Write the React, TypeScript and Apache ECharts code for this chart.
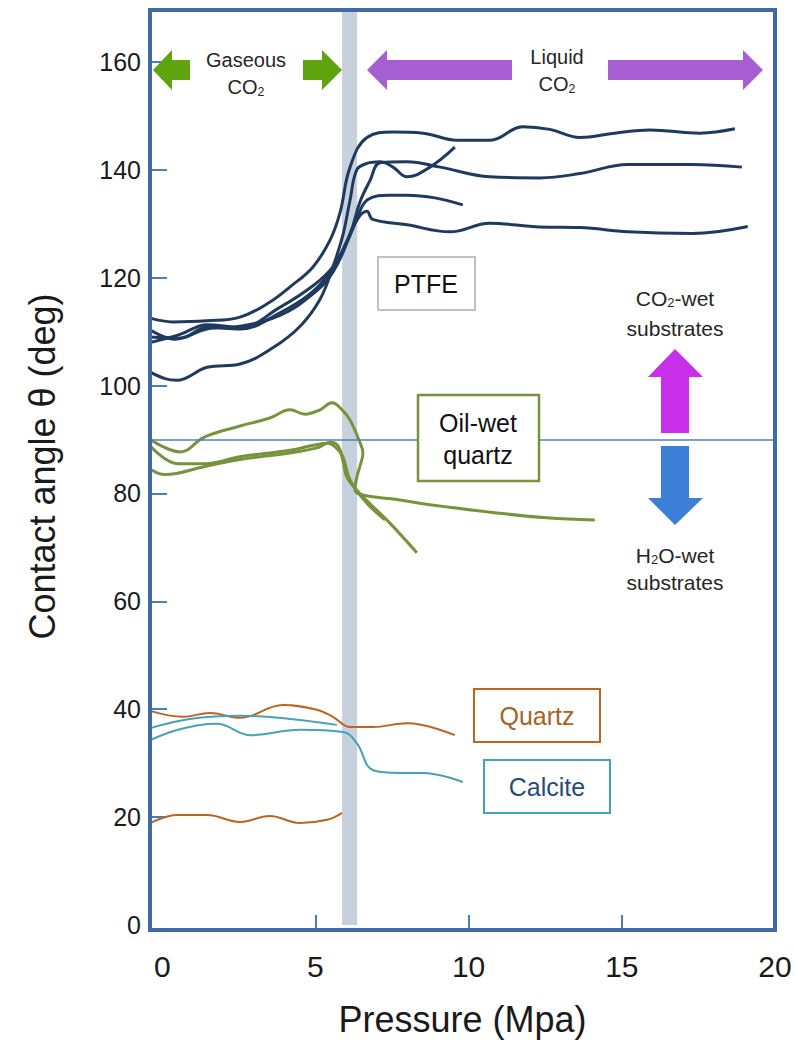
import React, { useEffect, useRef } from 'react';
import * as echarts from 'echarts';

const xLabelValues = [0, 5, 10, 15, 20];
const xTickValues = [5, 10, 15];
const yLabelValues = [0, 20, 40, 60, 80, 100, 120, 140, 160];
const yTickValues = [20, 40, 60, 80, 100, 120, 140, 160];

const ptfe1 = [[-0.39, 112.5], [0.35, 111.8], [1.44, 112], [2.54, 112.7], [3.52, 115.5], [4.17, 118.3], [4.92, 122], [5.48, 127], [5.8, 132], [6.13, 140.5], [6.68, 146], [7.53, 147], [8.51, 146.8], [9.62, 145.5], [10.7, 145.5], [11.77, 148], [12.65, 147.5], [13.63, 146], [14.77, 146.8], [15.92, 147.4], [17.55, 146.8], [18.69, 147.6]];
const ptfe2 = [[-0.39, 110.3], [0.42, 108.6], [1.46, 110.5], [2.54, 111], [3.84, 113], [4.92, 117], [5.57, 121], [6.13, 128], [6.45, 134], [6.78, 138], [7.11, 141.3], [7.99, 141.5], [9.07, 140.5], [10.69, 138.7], [12.33, 138.5], [13.63, 139.3], [15.2, 141], [17.29, 141], [18.92, 140.5]];
const ptfe3 = [[-0.39, 109], [0.58, 108.8], [1.46, 110.8], [2.54, 110.5], [3.84, 113.5], [4.82, 117], [5.48, 121], [5.96, 126], [6.35, 131], [6.71, 134.5], [7.43, 135.3], [7.99, 135.3], [8.9, 134.8], [9.81, 133.5]];
const ptfe4 = [[-0.39, 108], [0.58, 109.5], [1.46, 111.3], [2.54, 110.8], [3.84, 114.5], [4.92, 118.5], [5.57, 122], [6.06, 127], [6.39, 131], [6.68, 132.3], [6.87, 130.8], [7.99, 129.8], [9.39, 128.5], [10.69, 130.1], [12.33, 129.4], [13.63, 129.3], [15.2, 128.5], [17.29, 128.2], [19.11, 129.5]];
const ptfe5 = [[-0.39, 102.5], [0.09, 101.3], [0.48, 101], [1.46, 103.4], [2.54, 104], [3.61, 107], [4.5, 111], [5.15, 116], [5.57, 122], [5.9, 128], [6.13, 134.4], [6.35, 140], [6.68, 141.2], [7.11, 141.5], [7.53, 140.5], [7.99, 138.7], [8.74, 140.5], [9.55, 144.2]];

const oilQuartz1 = [[-0.39, 90], [0.09, 88.5], [0.58, 87.7], [1.39, 90.5], [2.54, 92.5], [3.51, 94], [4.17, 95.5], [4.66, 94.7], [5.15, 95.5], [5.54, 96.8], [5.87, 95.5], [6.13, 93.6], [6.45, 89.5], [6.55, 87.5], [6.45, 85], [6.35, 83], [6.29, 80.6], [6.55, 79.7], [7.76, 78.8], [8.74, 77.9], [10.92, 76.4], [12.55, 75.5], [14.12, 75.1]];
const oilQuartz2 = [[-0.39, 88.8], [0.52, 85.5], [1.39, 85.5], [2.54, 86.8], [4.17, 88], [4.98, 89], [5.41, 89.3], [5.7, 88.3], [5.9, 86.8], [6.13, 82.5], [6.68, 78.2], [7.27, 75.1]];
const oilQuartz3 = [[-0.39, 84.5], [0.09, 83.5], [1.39, 85], [2.54, 86.3], [4.17, 87.5], [5.08, 88.5], [5.48, 89.5], [5.74, 88.8], [5.9, 86], [6.03, 83], [6.45, 80], [7.43, 74.5], [8.31, 69]];

const quartz1 = [[-0.39, 39.7], [0.68, 38.6], [1.56, 39.3], [2.54, 38.4], [3.94, 40.8], [5.05, 39.9], [5.57, 38.6], [6.13, 36.7], [6.88, 36.7], [7.99, 37.4], [9.55, 35.2]];
const quartz2 = [[-0.39, 18.9], [0.48, 20.4], [1.46, 20.4], [2.54, 19.1], [3.51, 20.2], [4.49, 18.9], [5.38, 19.5], [5.87, 20.8]];
const calcite1 = [[-0.39, 36.5], [0.9, 38.2], [2.54, 38.8], [4.17, 38.2], [5.7, 37.1]];
const calcite2 = [[-0.39, 34.3], [0.58, 36.3], [1.79, 37.3], [2.86, 35.2], [4.49, 36.2], [5.9, 35.8], [6.35, 33.7], [6.88, 28.7], [7.76, 28.2], [8.51, 28.2], [9.81, 26.5]];

const transitionBand = [5.87, 6.36];
const neutralAngle = 90;

const FONT = '"Liberation Sans", Arial, Helvetica, sans-serif';
const NAVY = '#1f3a5e';
const GREEN = '#77933c';
const BROWN = '#bb651f';
const TEAL = '#45a2b6';

function line(name: string, data: number[][], color: string, width: number) {
  return {
    name,
    type: 'line',
    data,
    smooth: 0.4,
    showSymbol: false,
    symbol: 'none',
    z: 3,
    lineStyle: { color, width },
    silent: true,
  };
}

function txt(x: number, y: number, text: string, size: number, fill = '#262626', rich?: any) {
  return {
    type: 'text',
    x,
    y,
    z: 20,
    style: {
      text,
      fill,
      fontSize: size,
      fontFamily: FONT,
      textAlign: 'center',
      textVerticalAlign: 'middle',
      align: 'center',
      verticalAlign: 'middle',
      rich,
    },
  };
}

const subRich = (size: number, fill = '#262626') => ({
  s: { fontSize: size * 0.62, fontFamily: FONT, fill, color: fill, padding: [size * 0.45, 0, 0, 0] },
});

export default function App() {
  const ref = useRef<HTMLDivElement>(null);
  useEffect(() => {
    if (!ref.current) return;
    const chart = echarts.init(ref.current, null, { renderer: 'svg' });
    const option: any = {
      animation: false,
      backgroundColor: '#ffffff',
      grid: { left: 150, right: 20, top: 8, bottom: 119 },
      xAxis: {
        type: 'value',
        min: -0.4,
        max: 20,
        offset: 5,
        name: 'Pressure (Mpa)',
        nameLocation: 'middle',
        nameGap: 71,
        nameTextStyle: { fontSize: 36, fontFamily: FONT, color: '#1a1a1a' },
        axisLine: { show: false, onZero: false },
        splitLine: { show: false },
        axisTick: {
          show: true,
          inside: true,
          length: 15,
          customValues: xTickValues,
          lineStyle: { color: '#4a7ebb', width: 2 },
        },
        axisLabel: {
          customValues: xLabelValues,
          fontSize: 30,
          fontFamily: FONT,
          color: '#1a1a1a',
          margin: 21,
        },
      },
      yAxis: {
        type: 'value',
        min: 0,
        max: 170,
        name: 'Contact angle θ (deg)',
        nameLocation: 'middle',
        nameGap: 90,
        nameTextStyle: { fontSize: 36, fontFamily: FONT, color: '#1a1a1a' },
        axisLine: { show: false, onZero: false },
        splitLine: { show: false },
        axisTick: {
          show: true,
          inside: true,
          length: 17,
          customValues: yTickValues,
          lineStyle: { color: '#4a7ebb', width: 2 },
        },
        axisLabel: {
          customValues: yLabelValues,
          fontSize: 25,
          fontFamily: FONT,
          color: '#1a1a1a',
          margin: 9,
        },
      },
      series: [
        {
          name: 'band',
          type: 'line',
          data: [],
          z: 1,
          silent: true,
          markArea: {
            silent: true,
            itemStyle: { color: '#c7d0dd' },
            data: [[{ xAxis: transitionBand[0] }, { xAxis: transitionBand[1] }]],
          },
          markLine: {
            silent: true,
            symbol: 'none',
            label: { show: false },
            lineStyle: { color: '#4f81bd', width: 1.5, type: 'solid' },
            data: [{ yAxis: neutralAngle }],
          },
        },
        line('PTFE 1', ptfe1, NAVY, 3),
        line('PTFE 2', ptfe2, NAVY, 3),
        line('PTFE 3', ptfe3, NAVY, 3),
        line('PTFE 4', ptfe4, NAVY, 3),
        line('PTFE 5', ptfe5, NAVY, 3),
        line('Oil-wet quartz 1', oilQuartz1, GREEN, 3),
        line('Oil-wet quartz 2', oilQuartz2, GREEN, 3),
        line('Oil-wet quartz 3', oilQuartz3, GREEN, 3),
        line('Quartz 1', quartz1, BROWN, 2),
        line('Quartz 2', quartz2, BROWN, 2),
        line('Calcite 1', calcite1, TEAL, 2),
        line('Calcite 2', calcite2, TEAL, 2),
      ],
      graphic: {
        elements: [
          {
            type: 'rect',
            z: 30,
            silent: true,
            shape: { x: 150, y: 10, width: 625, height: 920 },
            style: { fill: 'none', stroke: '#3e6ba3', lineWidth: 4 },
          },
          {
            type: 'polygon', z: 15,
            shape: { points: [[153, 70], [172, 50], [172, 60], [190, 60], [190, 80], [172, 80], [172, 90]] },
            style: { fill: '#5fa30f' },
          },
          {
            type: 'polygon', z: 15,
            shape: { points: [[303, 60], [322, 60], [322, 50], [342, 70], [322, 90], [322, 80], [303, 80]] },
            style: { fill: '#5fa30f' },
          },
          {
            type: 'polygon', z: 15,
            shape: { points: [[367, 70], [387, 50], [387, 60], [512, 60], [512, 80], [387, 80], [387, 90]] },
            style: { fill: '#a65ed2' },
          },
          {
            type: 'polygon', z: 15,
            shape: { points: [[608, 60], [743, 60], [743, 50], [763, 70], [743, 90], [743, 80], [608, 80]] },
            style: { fill: '#a65ed2' },
          },
          txt(246, 60, 'Gaseous', 20),
          txt(246, 87, 'CO{s|2}', 20, '#262626', subRich(20)),
          txt(557, 57, 'Liquid', 20),
          txt(557, 84, 'CO{s|2}', 20, '#262626', subRich(20)),
          {
            type: 'polygon', z: 15,
            shape: { points: [[675, 349], [703, 377], [689, 377], [689, 433], [661, 433], [661, 377], [648, 377]] },
            style: { fill: '#c72fe8' },
          },
          {
            type: 'polygon', z: 15,
            shape: { points: [[661, 446], [689, 446], [689, 498], [703, 498], [675, 525], [648, 498], [661, 498]] },
            style: { fill: '#3b7fd6' },
          },
          txt(675, 298, 'CO{s|2}-wet', 21, '#262626', subRich(21)),
          txt(675, 328, 'substrates', 21),
          txt(675, 555, 'H{s|2}O-wet', 21, '#262626', subRich(21)),
          txt(675, 582, 'substrates', 21),
          {
            type: 'rect', z: 15,
            shape: { x: 378, y: 257, width: 97, height: 53 },
            style: { fill: '#ffffff', stroke: '#c0c0c0', lineWidth: 2 },
          },
          txt(426, 284, 'PTFE', 25, '#111111'),
          {
            type: 'rect', z: 15,
            shape: { x: 418, y: 395, width: 121, height: 86 },
            style: { fill: '#ffffff', stroke: GREEN, lineWidth: 2.5 },
          },
          txt(478, 423, 'Oil-wet', 25, '#111111'),
          txt(478, 455, 'quartz', 25, '#111111'),
          {
            type: 'rect', z: 15,
            shape: { x: 474, y: 689, width: 126, height: 53 },
            style: { fill: '#ffffff', stroke: BROWN, lineWidth: 2 },
          },
          txt(537, 716, 'Quartz', 25, '#a8621e'),
          {
            type: 'rect', z: 15,
            shape: { x: 484, y: 760, width: 126, height: 53 },
            style: { fill: '#ffffff', stroke: TEAL, lineWidth: 2 },
          },
          txt(547, 787, 'Calcite', 25, '#1f4e79'),
        ],
      },
    };
    chart.setOption(option);
    return () => chart.dispose();
  }, []);
  return <div ref={ref} style={{ width: 795, height: 1044, position: 'absolute', left: 0, top: 0 }} />;
}
